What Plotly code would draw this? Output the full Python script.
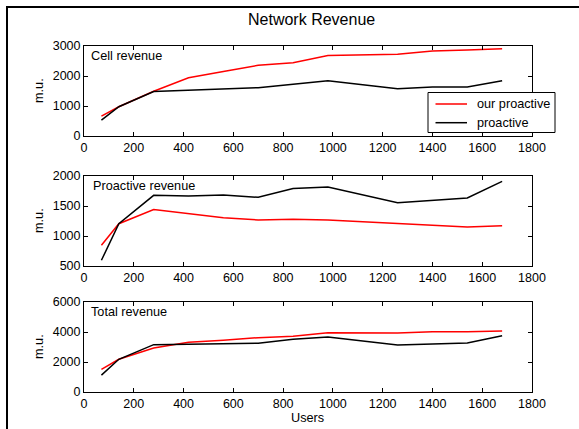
import plotly.graph_objects as go
from plotly.subplots import make_subplots

# Number of users in the network
users = [70, 140, 280, 420, 560, 700, 840, 980, 1260, 1400, 1540, 1680]

# Revenue per scheme (monetary units)
cell_ours = [665, 975, 1490, 1940, 2150, 2355, 2445, 2680, 2725, 2835, 2870, 2905]
cell_pro = [530, 975, 1480, 1530, 1570, 1610, 1725, 1845, 1578, 1630, 1635, 1845]
proact_ours = [845, 1205, 1440, 1372, 1305, 1267, 1278, 1267, 1205, 1175, 1150, 1170]
proact_pro = [595, 1205, 1678, 1667, 1683, 1645, 1790, 1817, 1555, 1590, 1635, 1911]
total_ours = [1510, 2180, 2930, 3312, 3455, 3622, 3723, 3947, 3930, 4010, 4020, 4075]
total_pro = [1125, 2180, 3158, 3197, 3253, 3255, 3515, 3662, 3133, 3220, 3270, 3756]

panel_titles = ["Cell revenue", "Proactive revenue", "Total revenue"]
y_ranges = [[0, 3000], [500, 2000], [0, 6000]]
y_ticks = [[0, 1000, 2000, 3000], [500, 1000, 1500, 2000], [0, 2000, 4000, 6000]]
x_ticks = list(range(0, 1801, 200))
series_names = ["our proactive", "proactive"]
series_colors = ["#ff0000", "#000000"]

FONT = "Liberation Sans, Arial, sans-serif"
W, H = 579, 429
ML, MR, MT, MB = 84, 47, 46, 37
PW, PH = W - ML - MR, H - MT - MB


def px_x(p):
    return (p - ML) / PW


def px_y(p):
    return (H - MB - p) / PH


fig = make_subplots(rows=3, cols=1)

panels = [(cell_ours, cell_pro), (proact_ours, proact_pro), (total_ours, total_pro)]
for i, series in enumerate(panels):
    for name, color, vals in zip(series_names, series_colors, series):
        fig.add_trace(go.Scatter(x=users, y=vals, mode="lines", name=name,
                                 line=dict(color=color, width=1.5),
                                 showlegend=False), row=i + 1, col=1)

# panel vertical extents in pixels (top, bottom)
panel_px = [(46, 136), (176, 266), (302, 392)]

axis_common = dict(showline=True, linecolor="black", linewidth=1, mirror="ticks",
                   ticks="inside", ticklen=4, tickcolor="black", showgrid=False,
                   zeroline=False, tickfont=dict(family=FONT, size=12.5, color="black"))

for i in range(3):
    top, bot = panel_px[i]
    yname = "yaxis" if i == 0 else f"yaxis{i + 1}"
    xname = "xaxis" if i == 0 else f"xaxis{i + 1}"
    fig.layout[yname].update(domain=[px_y(bot), px_y(top)], range=y_ranges[i],
                             tickvals=y_ticks[i], **axis_common)
    fig.layout[xname].update(domain=[0, 1], range=[0, 1800], tickvals=x_ticks,
                             **axis_common)
    xref = "x domain" if i == 0 else f"x{i + 1} domain"
    yref = "y domain" if i == 0 else f"y{i + 1} domain"
    fig.add_annotation(text=panel_titles[i], xref=xref, yref=yref,
                       x=(0.011 if i != 1 else 0.0156), y=0.885,
                       xanchor="left", yanchor="middle", showarrow=False,
                       font=dict(family=FONT, size=12.7, color="black"))
    fig.add_annotation(text="m.u.", xref="paper", yref="paper",
                       x=px_x(39), y=px_y((top + bot) / 2), textangle=-90,
                       xanchor="center", yanchor="middle", showarrow=False,
                       font=dict(family=FONT, size=12.7, color="black"))

fig.add_annotation(text="Network Revenue", xref="paper", yref="paper",
                   x=px_x(311), y=px_y(19), xanchor="center", yanchor="middle",
                   showarrow=False, font=dict(family=FONT, size=16, color="black"))
fig.add_annotation(text="Users", xref="paper", yref="paper",
                   x=px_x(307), y=px_y(418), xanchor="center", yanchor="middle",
                   showarrow=False, font=dict(family=FONT, size=12.7, color="black"))

# outer figure frame
fig.add_shape(type="rect", xref="paper", yref="paper",
              x0=px_x(7), x1=px_x(600), y0=px_y(450), y1=px_y(7),
              line=dict(color="black", width=2), fillcolor="rgba(0,0,0,0)")

# legend box in the top panel (MATLAB-style boxed legend)
fig.add_shape(type="rect", xref="paper", yref="paper",
              x0=px_x(428), x1=px_x(555), y0=px_y(132.5), y1=px_y(92.5),
              line=dict(color="black", width=1), fillcolor="white", layer="above")
for k, (name, color) in enumerate(zip(series_names, series_colors)):
    row_y = px_y(104 + 18.7 * k)
    fig.add_shape(type="line", xref="paper", yref="paper",
                  x0=px_x(435.5), x1=px_x(467), y0=row_y, y1=row_y,
                  line=dict(color=color, width=1.5), layer="above")
    fig.add_annotation(text=name, xref="paper", yref="paper",
                       x=px_x(474.5), y=row_y, xanchor="left", yanchor="middle",
                       showarrow=False,
                       font=dict(family=FONT, size=12.7, color="black"))

fig.update_layout(
    width=W, height=H,
    margin=dict(l=ML, r=MR, t=MT, b=MB),
    paper_bgcolor="white", plot_bgcolor="white",
    font=dict(family=FONT, size=12.7, color="black"),
    showlegend=False,
)

fig.write_html("out.html")
